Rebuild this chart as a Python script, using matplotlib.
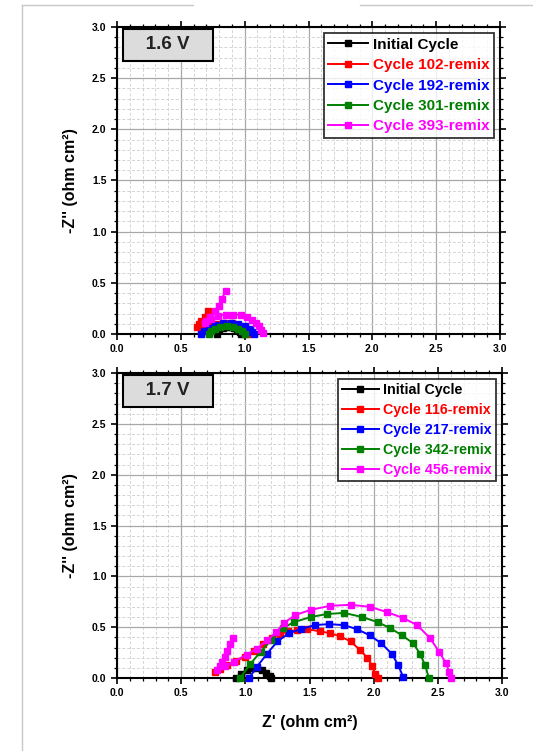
import numpy as np
import matplotlib
matplotlib.use("Agg")
import matplotlib.pyplot as plt
from matplotlib.ticker import MultipleLocator
from matplotlib.lines import Line2D

plt.rcParams['font.family'] = ['Liberation Sans', 'DejaVu Sans']
plt.rcParams['font.weight'] = 'bold'

colors = ['black', '#ff0000', '#0000ff', '#008000', '#ff00ff']

# ---------------- 1.6 V data ----------------
labels_16 = ['Initial Cycle', 'Cycle 102-remix', 'Cycle 192-remix',
             'Cycle 301-remix', 'Cycle 393-remix']
x16_init = [0.78, 0.80, 0.83, 0.86, 0.89, 0.92, 0.94, 0.96, 0.97]
y16_init = [0.00, 0.04, 0.06, 0.07, 0.07, 0.06, 0.04, 0.02, 0.00]
x16_c102 = [0.71, 0.69, 0.66, 0.64, 0.63, 0.66, 0.72, 0.78, 0.84, 0.90, 0.95, 0.99, 1.02, 1.03]
y16_c102 = [0.22, 0.17, 0.13, 0.10, 0.07, 0.06, 0.08, 0.10, 0.11, 0.11, 0.09, 0.06, 0.03, 0.00]
x16_c192 = [0.66, 0.68, 0.72, 0.77, 0.83, 0.89, 0.95, 1.00, 1.04, 1.06, 1.07]
y16_c192 = [0.00, 0.03, 0.06, 0.09, 0.11, 0.11, 0.10, 0.08, 0.05, 0.02, 0.00]
x16_c301 = [0.72, 0.74, 0.77, 0.81, 0.86, 0.91, 0.95, 0.98, 1.00]
y16_c301 = [0.00, 0.03, 0.05, 0.07, 0.08, 0.07, 0.05, 0.03, 0.00]
x16_c393 = [0.85, 0.82, 0.80, 0.77, 0.73, 0.70, 0.69, 0.74, 0.79, 0.85, 0.91,
            0.97, 1.02, 1.06, 1.09, 1.11, 1.13, 1.14]
y16_c393 = [0.42, 0.34, 0.27, 0.22, 0.17, 0.13, 0.11, 0.15, 0.18, 0.19, 0.19,
            0.185, 0.17, 0.14, 0.11, 0.08, 0.04, 0.01]

# ---------------- 1.7 V data ----------------
labels_17 = ['Initial Cycle', 'Cycle 116-remix', 'Cycle 217-remix',
             'Cycle 342-remix', 'Cycle 456-remix']
x17_init = [0.93, 0.97, 1.01, 1.05, 1.09, 1.13, 1.16, 1.19, 1.20]
y17_init = [0.00, 0.04, 0.08, 0.10, 0.10, 0.08, 0.05, 0.02, 0.00]
x17_c116 = [0.76, 0.80, 0.86, 0.93, 1.00, 1.07, 1.14, 1.21, 1.27, 1.33, 1.40,
            1.48, 1.58, 1.66, 1.74, 1.82, 1.89, 1.95, 1.99, 2.01, 2.03]
y17_c116 = [0.06, 0.09, 0.13, 0.17, 0.21, 0.27, 0.33, 0.39, 0.43, 0.46, 0.47,
            0.48, 0.46, 0.44, 0.41, 0.36, 0.28, 0.20, 0.12, 0.04, 0.00]
x17_c217 = [1.03, 1.09, 1.17, 1.25, 1.34, 1.43, 1.54, 1.65, 1.77, 1.87, 1.97,
            2.06, 2.14, 2.19, 2.23]
y17_c217 = [0.00, 0.11, 0.24, 0.36, 0.44, 0.48, 0.52, 0.53, 0.52, 0.48, 0.42,
            0.34, 0.24, 0.13, 0.01]
x17_c342 = [0.96, 1.04, 1.12, 1.20, 1.29, 1.38, 1.51, 1.64, 1.77, 1.91, 2.03,
            2.13, 2.22, 2.31, 2.36, 2.40, 2.43]
y17_c342 = [0.00, 0.14, 0.26, 0.37, 0.49, 0.55, 0.60, 0.63, 0.64, 0.60, 0.55,
            0.49, 0.42, 0.34, 0.24, 0.13, 0.00]
x17_c456 = [0.90, 0.88, 0.86, 0.84, 0.82, 0.80, 0.78, 0.84, 0.91, 1.01, 1.09,
            1.17, 1.24, 1.30, 1.39, 1.51, 1.66, 1.82, 1.97, 2.10, 2.23, 2.34,
            2.44, 2.51, 2.56, 2.59, 2.60]
y17_c456 = [0.39, 0.33, 0.27, 0.21, 0.16, 0.12, 0.08, 0.12, 0.16, 0.23, 0.29,
            0.37, 0.45, 0.54, 0.62, 0.67, 0.71, 0.72, 0.70, 0.65, 0.59, 0.52,
            0.39, 0.26, 0.15, 0.06, 0.00]

series_16 = [(x16_init, y16_init), (x16_c102, y16_c102), (x16_c192, y16_c192),
             (x16_c301, y16_c301), (x16_c393, y16_c393)]
series_17 = [(x17_init, y17_init), (x17_c116, y17_c116), (x17_c217, y17_c217),
             (x17_c342, y17_c342), (x17_c456, y17_c456)]

fig = plt.figure(figsize=(5.33, 7.51), dpi=100)

# faint page frame
fig.add_artist(Line2D([22/533, 193/533], [1-5/751, 1-5/751], color='#c8c8c8', lw=1))
fig.add_artist(Line2D([360/533, 1.0], [1-5/751, 1-5/751], color='#c8c8c8', lw=1))
fig.add_artist(Line2D([22/533, 22/533], [1-5/751, 0.0], color='#c8c8c8', lw=1))

ax1 = fig.add_axes([117/533, 1-334/751, 383/533, 307/751])
ax2 = fig.add_axes([117/533, 1-678/751, 385/533, 305/751])


def style(ax, series, labels, tag, legsize):
    ax.set_xlim(0, 3)
    ax.set_ylim(0, 3)
    ax.xaxis.set_major_locator(MultipleLocator(0.5))
    ax.yaxis.set_major_locator(MultipleLocator(0.5))
    ax.xaxis.set_minor_locator(MultipleLocator(0.1))
    ax.yaxis.set_minor_locator(MultipleLocator(0.1))
    ax.grid(which='major', color='#a8a8a8', lw=0.9, ls='-')
    ax.grid(which='minor', color='#d4d4d4', lw=0.7, ls=(0, (3, 2)))
    ax.set_axisbelow(True)
    for s in ax.spines.values():
        s.set_linewidth(1.5)
    ax.tick_params(which='major', direction='out', length=4, width=1.2,
                   labelsize=7.5, top=True, right=True)
    ax.tick_params(which='minor', direction='out', length=2, width=0.9,
                   top=True, right=True)
    for lab in ax.get_xticklabels() + ax.get_yticklabels():
        lab.set_fontweight('bold')
    handles = []
    for (x, y), c, lab in zip(series, colors, labels):
        h, = ax.plot(x, y, '-s', color=c, lw=1.4, ms=5, mec=c, label=lab,
                     clip_on=False, zorder=3)
        handles.append(h)
    leg = ax.legend(handles=handles, loc='upper right', fontsize=legsize,
                    frameon=True, fancybox=False, edgecolor='black',
                    handlelength=2.6, handletextpad=0.3, borderpad=0.3,
                    labelspacing=0.42, numpoints=1, borderaxespad=0.4)
    leg.get_frame().set_linewidth(1.3)
    for t, c in zip(leg.get_texts(), colors):
        t.set_color(c)
        t.set_fontweight('bold')
    ax.text(0.035, 0.97, tag, transform=ax.transAxes, ha='left', va='top',
            fontsize=13.5, fontweight='bold', color='#222222',
            bbox=dict(boxstyle='square,pad=0.4', facecolor='#dcdcdc',
                      edgecolor='black', lw=1.5))


style(ax1, series_16, labels_16, '   1.6 V   ', 11)
style(ax2, series_17, labels_17, '   1.7 V   ', 10.3)

ax1.set_ylabel("-Z'' (ohm cm²)", fontsize=11.5, fontweight='bold', labelpad=10)
ax2.set_ylabel("-Z'' (ohm cm²)", fontsize=11.5, fontweight='bold', labelpad=10)
ax2.set_xlabel("Z' (ohm cm²)", fontsize=11.5, fontweight='bold', labelpad=12)

fig.savefig('out.png', dpi=100)
